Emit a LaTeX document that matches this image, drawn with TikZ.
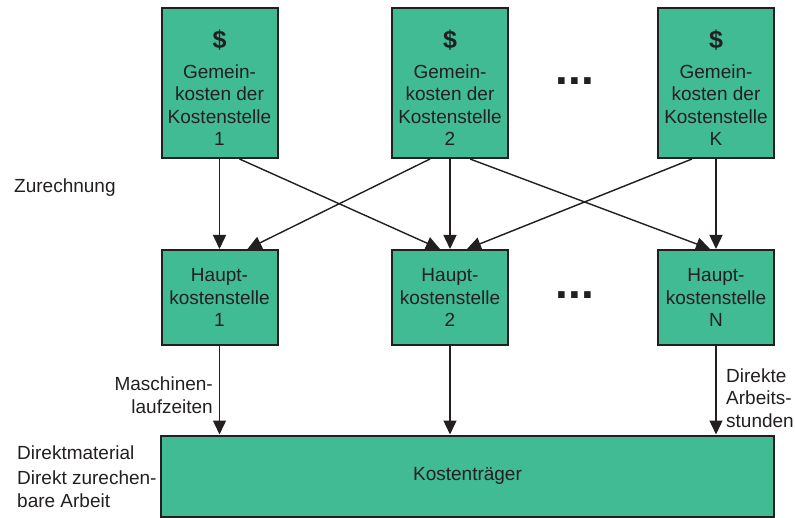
\documentclass[tikz,border=0pt]{standalone}
\usepackage{fontspec}
\setmainfont{Liberation Sans}
\usetikzlibrary{arrows.meta,calc}
\definecolor{boxgreen}{HTML}{40BB94}
\definecolor{ink}{HTML}{231F20}
\newcommand{\dollarline}{\rule{0pt}{29pt}{\fontsize{25}{25}\selectfont\bfseries \$}\\[7pt]}
\begin{document}
\begin{tikzpicture}[x=1pt,y=-1pt,
  font=\fontsize{19}{22.5}\selectfont,
  every node/.style={text=ink},
  box/.style={draw=ink,line width=2pt,fill=boxgreen,minimum width=116pt,align=center,inner sep=0pt},
  topbox/.style={box,minimum height=150pt},
  midbox/.style={box,minimum height=95pt},
  arr/.style={draw=ink,line width=1.4pt,-{Triangle[length=14pt,width=13pt]}},
  lbl/.style={inner sep=0pt},
  dots/.style={inner sep=0pt,font=\fontsize{46}{46}\selectfont\bfseries}]
\useasboundingbox (0,0) rectangle (795,518);
% top boxes
\node[topbox] (t1) at (219.5,83) {\dollarline Gemein-\\kosten der\\Kostenstelle\\1};
\node[topbox] (t2) at (450,83) {\dollarline Gemein-\\kosten der\\Kostenstelle\\2};
\node[topbox] (tK) at (716,83) {\dollarline Gemein-\\kosten der\\Kostenstelle\\K};
\node[dots,anchor=base] (d1) at (575,85) {...};
% middle boxes
\node[midbox] (h1) at (219.5,297.5) {Haupt-\\kostenstelle\\1};
\node[midbox] (h2) at (450,297.5) {Haupt-\\kostenstelle\\2};
\node[midbox] (hN) at (716,297.5) {Haupt-\\kostenstelle\\N};
\node[dots,anchor=base] (d2) at (575,299) {...};
% bottom box
\node[box,minimum width=613pt,minimum height=81pt] (kt) at (467.5,476) {\raisebox{-3pt}{Kostenträger}};
% arrows top -> middle
\draw[arr] (t1) -- (h1);
\draw[arr] ([xshift=20pt]t1.south) -- ([xshift=-10pt]h2.north);
\draw[arr] ([xshift=-20pt]t2.south) -- ([xshift=28pt]h1.north);
\draw[arr] (t2) -- (h2);
\draw[arr] ([xshift=20pt]t2.south) -- ([xshift=-6pt]hN.north);
\draw[arr] ([xshift=-24pt]tK.south) -- ([xshift=17pt]h2.north);
\draw[arr] (tK) -- (hN);
% arrows middle -> bottom
\draw[arr] (h1) -- (h1.south |- kt.north);
\draw[arr] (h2) -- (h2.south |- kt.north);
\draw[arr] (hN) -- (hN.south |- kt.north);
% labels
\node[lbl,anchor=west] (zu) at (14,188) {Zurechnung};
\node[lbl,anchor=east,align=right] (ma) at (213,395) {Maschinen-\\laufzeiten};
\node[lbl,anchor=west,align=left] (da) at (726,398) {Direkte\\Arbeits-\\stunden};
\node[lbl,anchor=west] (dm) at (17,453) {Direktmaterial};
\node[lbl,anchor=west,align=left] (dz) at (17,489) {Direkt zurechen-\\bare Arbeit};
\end{tikzpicture}
\end{document}
